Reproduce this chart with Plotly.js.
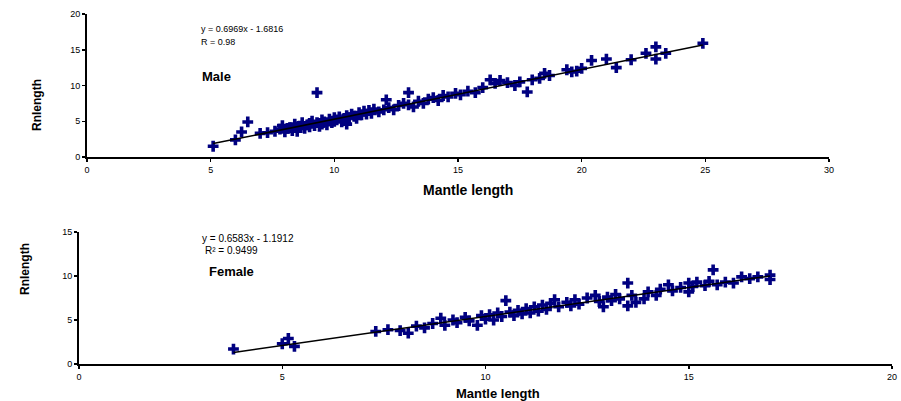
<!DOCTYPE html>
<html><head><meta charset="utf-8">
<script src="https://cdn.plot.ly/plotly-3.0.1.min.js"></script>
<style>html,body{margin:0;padding:0;background:#fff}#c{width:901px;height:401px}</style>
</head><body><div id="c"></div>
<script>
// Male data (Mantle length, Rnlength)
const maleX = [5.1,6.0,6.25,6.5,7.0,7.3,7.6,7.8,7.9,8.0,8.1,8.2,8.3,8.4,8.5,8.5,8.6,8.7,8.8,8.9,9.0,9.0,9.1,9.2,9.3,9.3,9.4,9.5,9.5,9.6,9.7,9.8,9.9,10.0,10.0,10.1,10.2,10.3,10.4,10.5,10.5,10.6,10.7,10.8,10.9,11.0,11.1,11.2,11.3,11.4,11.5,11.6,11.8,12.0,12.1,12.2,12.4,12.6,12.8,13.0,13.0,13.2,13.4,13.6,13.8,14.0,14.2,14.4,14.6,14.9,15.1,15.4,15.7,16.0,16.3,16.5,16.7,17.0,17.3,17.5,17.8,18.0,18.3,18.5,18.7,19.4,19.6,19.8,20.0,20.4,21.0,21.4,22.0,22.6,23.0,23.0,23.4,24.9];
const maleY = [1.5,2.4,3.5,4.9,3.3,3.4,3.6,3.9,4.4,3.5,4.0,4.1,3.7,4.6,4.2,3.6,4.3,4.8,4.0,4.5,4.7,4.2,5.0,4.4,9.0,4.8,4.3,5.2,4.6,4.9,4.5,5.3,4.8,5.5,5.0,5.2,5.6,4.9,5.4,5.8,4.6,5.5,6.0,5.7,5.4,6.2,5.9,6.4,6.0,6.5,6.1,6.7,6.3,6.6,8.0,6.9,6.6,7.2,7.5,9.0,7.3,7.0,7.8,7.5,8.1,8.3,7.9,8.6,8.4,8.9,8.7,9.2,9.0,9.7,10.8,10.3,10.7,10.4,10.0,10.5,9.1,10.8,11.0,11.7,11.4,12.2,11.9,12.0,12.4,13.5,13.7,12.5,13.6,14.5,15.4,13.7,14.5,15.9];
// Female data
const femaleX = [3.8,5.0,5.15,5.3,7.3,7.6,7.9,8.1,8.3,8.5,8.7,8.9,9.0,9.2,9.3,9.5,9.6,9.8,9.9,10.0,10.1,10.2,10.3,10.4,10.5,10.6,10.7,10.8,10.9,11.0,11.1,11.2,11.3,11.4,11.5,11.6,11.7,11.8,12.0,12.1,12.2,12.3,12.5,12.7,12.8,12.9,13.0,13.1,13.2,13.3,13.5,13.5,13.6,13.7,13.9,14.0,14.2,14.3,14.5,14.6,14.8,15.0,15.0,15.1,15.2,15.4,15.5,15.6,15.7,15.9,16.1,16.3,16.5,16.7,17.0,17.0];
const femaleY = [1.7,2.3,2.9,2.0,3.7,3.9,3.8,3.5,4.3,4.1,4.6,5.2,4.4,5.0,4.7,5.3,4.9,4.4,5.5,5.1,5.6,5.0,5.8,5.4,7.2,5.9,5.5,6.1,5.7,6.3,5.8,6.5,6.0,6.7,6.2,6.9,7.3,6.5,7.0,6.6,7.3,6.8,7.5,7.8,7.1,6.5,7.6,7.2,7.9,7.4,9.2,6.6,7.8,7.0,7.4,8.2,7.8,8.5,9.0,8.3,8.7,9.2,8.2,8.8,9.3,8.9,9.4,10.7,9.0,9.3,9.2,9.9,9.7,9.9,10.1,9.6];
// Trendline coefficients
const maleFit = {slope: 0.6969, intercept: -1.6816};
const femaleFit = {slope: 0.6583, intercept: -1.1912};
const xTicks = [0,5,10,15,20,25,30];

function fitLine(xs, fit){
  const lo = Math.min(...xs), hi = Math.max(...xs);
  return {x:[lo,hi], y:[fit.slope*lo+fit.intercept, fit.slope*hi+fit.intercept]};
}
const mL = fitLine(maleX, maleFit), fL = fitLine(femaleX, femaleFit);
const mk = {symbol:'cross', size:9, color:'#000080', line:{width:0}};
const data = [
  {x:maleX, y:maleY, type:'scatter', mode:'markers', marker:mk, xaxis:'x', yaxis:'y'},
  {x:mL.x, y:mL.y, type:'scatter', mode:'lines', line:{color:'#000', width:1.5}, xaxis:'x', yaxis:'y'},
  {x:femaleX, y:femaleY, type:'scatter', mode:'markers', marker:mk, xaxis:'x2', yaxis:'y2'},
  {x:fL.x, y:fL.y, type:'scatter', mode:'lines', line:{color:'#000', width:1.5}, xaxis:'x2', yaxis:'y2'}
];
const W=901,H=401;
const px = v=>v/W, py = v=>1-v/H;
const ax = {showgrid:false, zeroline:false, showline:true, linecolor:'#000', linewidth:2,
  ticks:'outside', ticklen:3, tickwidth:1.5, tickcolor:'#000',
  tickfont:{family:'Liberation Sans, Arial', size:9, color:'#000'}};
const tf = {family:'Liberation Sans, Arial', color:'#000'};
const layout = {
  width:W, height:H, margin:{l:0,r:0,t:0,b:0}, showlegend:false,
  paper_bgcolor:'#fff', plot_bgcolor:'#fff',
  xaxis:Object.assign({}, ax, {domain:[px(87),px(829)], range:[0,30], tickvals:xTicks, anchor:'y'}),
  yaxis:Object.assign({}, ax, {domain:[py(157),py(14)], range:[0,20], tickvals:[0,5,10,15,20], anchor:'x'}),
  xaxis2:Object.assign({}, ax, {domain:[px(79),px(892)], range:[0,20], tickvals:[0,5,10,15,20], anchor:'y2'}),
  yaxis2:Object.assign({}, ax, {domain:[py(364),py(232)], range:[0,15], tickvals:[0,5,10,15], anchor:'x2'}),
  annotations:[
    {xref:'paper',yref:'paper',x:px(468),y:py(190),text:'<b>Mantle length</b>',showarrow:false,font:Object.assign({size:14},tf)},
    {xref:'paper',yref:'paper',x:px(28),y:py(77),text:'<b>Rnlength</b>',textangle:-90,showarrow:false,font:Object.assign({size:12},tf)},
    {xref:'paper',yref:'paper',x:px(199),y:py(22),text:'y = 0.6969x - 1.6816',showarrow:false,font:Object.assign({size:9},tf)},
    {xref:'paper',yref:'paper',x:px(199),y:py(35),text:'R = 0.98',showarrow:false,font:Object.assign({size:9},tf)},
    {xref:'paper',yref:'paper',x:px(200),y:py(67),text:'<b>Male</b>',showarrow:false,font:Object.assign({size:13},tf)},
    {xref:'paper',yref:'paper',x:px(498),y:py(393),yanchor:'middle',text:'<b>Mantle length</b>',showarrow:false,font:Object.assign({size:13},tf)},
    {xref:'paper',yref:'paper',x:px(16),y:py(297),text:'<b>Rnlength</b>',textangle:-90,showarrow:false,font:Object.assign({size:12},tf)},
    {xref:'paper',yref:'paper',x:px(200),y:py(239),text:'y = 0.6583x - 1.1912',showarrow:false,font:Object.assign({size:10},tf)},
    {xref:'paper',yref:'paper',x:px(203),y:py(250),text:'R² = 0.9499',showarrow:false,font:Object.assign({size:10},tf)},
    {xref:'paper',yref:'paper',x:px(207),y:py(281),text:'<b>Female</b>',showarrow:false,font:Object.assign({size:13},tf)}
  ]
};
Plotly.newPlot('c', data, layout, {displayModeBar:false, staticPlot:true});
</script></body></html>
